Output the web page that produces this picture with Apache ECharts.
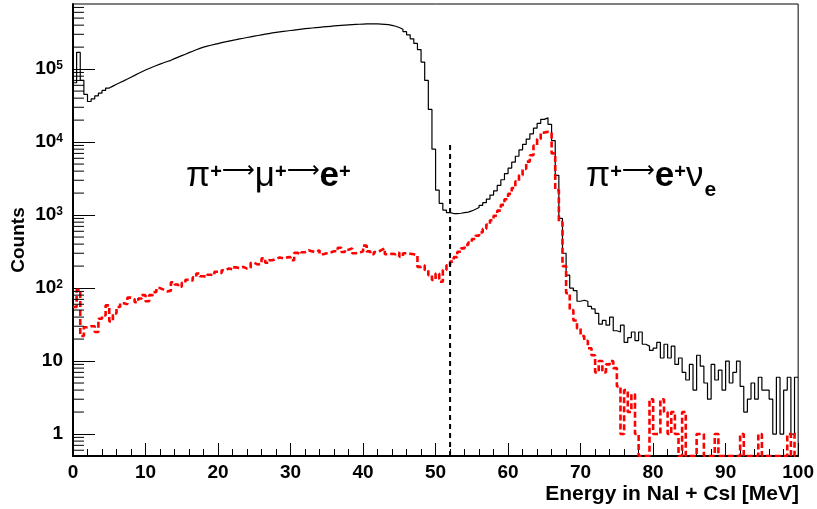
<!DOCTYPE html>
<html>
<head>
<meta charset="utf-8">
<script src="https://cdn.jsdelivr.net/npm/echarts@6/dist/echarts.min.js"></script>
<style>
html,body{margin:0;padding:0;background:#fff;}
#chart{width:817px;height:509px;}
</style>
</head>
<body>
<div id="chart"></div>
<script>
// ---- data ----
const BIN_WIDTH = 0.5;            // MeV
const X_MIN = 0, X_MAX = 100;
const Y_MIN = 0.5, Y_MAX = 780000;
const X_TICK_STEP = 10;
const CUT_ENERGY = 52;            // MeV, vertical dashed cut line
const CUT_LINE_TOP = 9500;

// black histogram: all events (counts per 0.5 MeV bin, from 0 MeV)
const allCounts = [
  65000,170000,70000,45000,36000,39000,43000,47000,51000,55000,
  58500,62000,65500,69000,73000,77500,82000,87000,92000,97000,
  102000,107000,112000,117000,122000,127000,132000,139000,146000,153000,
  160000,168000,176000,184000,192000,200000,206000,212000,218000,224000,
  230000,236000,242000,248000,253000,259000,265000,271000,277000,283000,
  289000,295000,301000,307000,313000,318000,323000,328000,333000,338000,
  343000,348000,353000,358000,362000,366000,370000,374000,378000,382000,
  386000,390000,394000,397000,400000,403000,406000,409000,412000,414000,
  416000,417000,417000,416000,414000,411000,406000,398000,387000,372000,
  352000,326000,295000,260000,225000,185000,125000,70000,28000,8000,
  2200,1450,1170,1080,1050,1050,1060,1080,1100,1140,
  1200,1270,1360,1480,1650,1880,2150,2550,3050,3700,
  4400,5300,6400,7800,9300,11000,13000,15500,18000,20500,
  21500,17500,10500,3500,900,300,150,100,92,66,
  68,66,56,52,45,32,36,31,40,26,
  25,31,18,21,25,19,25,17,16,14,
  15,18,11,17,11,16,9,11,7,5.5,
  9,4,12,8.5,5,3,9,5.5,7.5,4,
  10,5,7,10,4.5,2,3,5,3,6,
  4,4,3,1,6,1,4,6,1,6
];

// red dashed histogram: selected events
const selCounts = [
  55,95,22,29,30,30,25,38,42,58,
  35,45,55,62,60,74,70,64,72,80,
  66,80,88,100,95,90,92,120,112,104,
  118,130,126,140,158,145,142,152,150,167,
  160,175,186,180,192,188,195,185,190,222,
  210,215,255,222,240,250,263,255,263,265,
  240,303,290,310,330,318,312,330,290,300,
  307,320,318,356,312,335,350,300,305,318,
  382,318,290,312,330,350,290,295,290,307,
  270,300,295,290,280,195,205,177,150,129,
  158,122,177,205,230,265,315,350,390,420,
  470,520,580,650,740,850,980,1150,1380,1650,
  1950,2350,2900,3500,4300,5400,6600,9000,11000,13500,
  13800,13500,7000,2200,800,200,85,50,36,28,
  22,19,15,12,7,10,7,9,10,8,
  4.5,1,4,2,3.5,1,0,0,0,3,
  1,1,3,2,1,2,1,0,2,0,
  0,0,1,1,0,0,0,1,0,0,
  0,0,0,0,1,0,0,0,0,1,
  0,0,0,0,0,0,0,1,0,1
];

// ---- build step data (bin left edges + closing edge); empty bins sit on the frame floor ----
function toSteps(counts) {
  const pts = counts.map((v, i) => [i * BIN_WIDTH, v > 0 ? v : Y_MIN]);
  const last = counts[counts.length - 1];
  pts.push([counts.length * BIN_WIDTH, last > 0 ? last : Y_MIN]);
  return pts;
}

// minor log ticks at 2..9 x 10^k inside the axis range
const minorTickVals = [];
for (let k = -1; k <= 6; k++) {
  for (let m = 2; m <= 9; m++) {
    const v = m * Math.pow(10, k);
    if (v > Y_MIN && v < Y_MAX) minorTickVals.push([X_MIN, v]);
  }
}

const FONT = '"Liberation Sans", Arial, Helvetica, sans-serif';

function yLabel(v) {
  const e = Math.round(Math.log10(v));
  const p = Math.pow(10, e);
  if (Math.abs(v - p) / p > 1e-6) return '';
  if (e === 0) return '{b|1}';
  if (e === 1) return '{b|10}';
  return '{b|10}{s|' + e + '}';
}

const chart = echarts.init(document.getElementById('chart'), null, {renderer: 'canvas'});

const mainRich = {
  n: {fontFamily: FONT, fontSize: 35, lineHeight: 35, verticalAlign: 'top', color: '#000'},
  a: {fontFamily: '"DejaVu Sans", sans-serif', fontSize: 23, lineHeight: 35, verticalAlign: 'top', padding: [1, 0, 0, 0], color: '#000'},
  e: {fontFamily: FONT, fontSize: 35, lineHeight: 35, fontWeight: 'bold', verticalAlign: 'top', color: '#000'},
  sup: {fontFamily: FONT, fontSize: 20, lineHeight: 20, fontWeight: 'bold', verticalAlign: 'top', padding: [3, 0, 0, 0], color: '#000'},
  sub: {fontFamily: FONT, fontSize: 21, lineHeight: 21, fontWeight: 'bold', verticalAlign: 'top', padding: [21, 0, 0, 1], color: '#000'}
};

const option = {
  animation: false,
  backgroundColor: '#fff',
  grid: {
    left: 73, right: 18, top: 4, bottom: 53,
    show: true, borderColor: '#000', borderWidth: 1, backgroundColor: 'transparent'
  },
  xAxis: {
    type: 'value', min: X_MIN, max: X_MAX, interval: X_TICK_STEP,
    axisLine: {show: true, onZero: false, lineStyle: {color: '#000', width: 2}},
    axisTick: {show: true, inside: true, length: 13, lineStyle: {color: '#000', width: 1}},
    minorTick: {show: true, splitNumber: 5, length: 7, lineStyle: {color: '#000', width: 1}},
    axisLabel: {margin: 7, color: '#000', fontFamily: FONT, fontSize: 19, fontWeight: 'bold'},
    splitLine: {show: false}
  },
  yAxis: {
    type: 'log', logBase: 10, min: Y_MIN, max: Y_MAX,
    axisLine: {show: true, lineStyle: {color: '#000', width: 2}},
    axisTick: {show: true, inside: true, length: 22, lineStyle: {color: '#000', width: 1}},
    minorTick: {show: false},
    splitLine: {show: false},
    axisLabel: {
      margin: 10, color: '#000', formatter: yLabel,
      showMinLabel: false, showMaxLabel: false,
      rich: {
        b: {fontFamily: FONT, fontSize: 19, fontWeight: 'bold', lineHeight: 19, verticalAlign: 'top', color: '#000'},
        s: {fontFamily: FONT, fontSize: 12, fontWeight: 'bold', lineHeight: 12, verticalAlign: 'top', color: '#000'}
      }
    }
  },
  graphic: [
    {
      type: 'text', x: 19, y: 240, rotation: Math.PI / 2,
      style: {text: 'Counts', fontFamily: FONT, fontSize: 19, fontWeight: 'bold', fill: '#000', align: 'center', verticalAlign: 'middle'}
    },
    {
      type: 'text', x: 799, y: 484,
      style: {text: 'Energy in NaI + CsI [MeV]', fontFamily: FONT, fontSize: 21, fontWeight: 'bold', fill: '#000', align: 'right', verticalAlign: 'top'}
    },
    {
      type: 'text', x: 186, y: 159,
      style: {
        text: '{n|π}{sup|+}{a|⟶}{n|μ}{sup|+}{a|⟶}{e|e}{sup|+}',
        rich: mainRich, verticalAlign: 'top', align: 'left'
      }
    },
    {
      type: 'text', x: 586, y: 159,
      style: {
        text: '{n|π}{sup|+}{a|⟶}{e|e}{sup|+}{n|ν}{sub|e}',
        rich: mainRich, verticalAlign: 'top', align: 'left'
      }
    }
  ],
  series: [
    {
      type: 'custom', name: 'minorTicks', coordinateSystem: 'cartesian2d',
      data: minorTickVals, silent: true, z: 5,
      renderItem: function (params, api) {
        const p = api.coord([api.value(0), api.value(1)]);
        return {type: 'line', shape: {x1: p[0], y1: p[1], x2: p[0] + 11, y2: p[1]}, style: {stroke: '#000', lineWidth: 1}};
      }
    },
    {
      type: 'line', name: 'all', data: toSteps(allCounts), step: 'end',
      showSymbol: false, symbol: 'none', clip: true,
      lineStyle: {color: '#000', width: 1.2}, z: 3
    },
    {
      type: 'line', name: 'selected', data: toSteps(selCounts), step: 'end',
      showSymbol: false, symbol: 'none', clip: true,
      lineStyle: {color: '#ff0000', width: 2.6, type: [6, 3]}, z: 4
    },
    {
      type: 'line', name: 'cut', data: [[CUT_ENERGY, Y_MIN], [CUT_ENERGY, CUT_LINE_TOP]],
      showSymbol: false, symbol: 'none', clip: true,
      lineStyle: {color: '#000', width: 2, type: [5, 4]}, z: 4
    }
  ]
};
chart.setOption(option);
</script>
</body>
</html>
